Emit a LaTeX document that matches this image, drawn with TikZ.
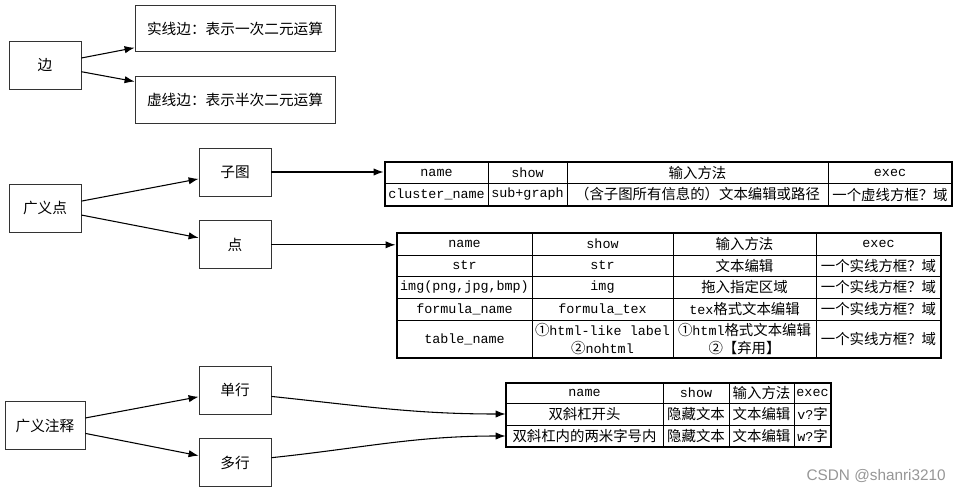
\documentclass[tikz,border=0pt]{standalone}
\usepackage{fontspec}
\setmainfont{Noto Sans CJK SC}
\setmonofont[Scale=0.93]{Liberation Mono}
\newfontfamily\wmfont{Liberation Sans}
\usetikzlibrary{fit,positioning,arrows.meta}
\definecolor{mygray}{RGB}{150,150,150}
% table cell from corner (x1,y1) to corner (x2,y2), in pixels
\newcommand{\tcell}[6]{\node[cell, minimum width={(#4-#2)*0.75pt}, minimum height={(#5-#3)*0.75pt}] (#1) at ({(#2+#4)/2},{(#3+#5)/2}) {#6};}

\begin{document}
\begin{tikzpicture}[x=0.75pt,y=-0.75pt,node distance=18pt and 10mm,inner sep=0pt]
\tikzstyle{main}=[rectangle, minimum width=54pt, minimum height=36pt, draw=black!80, semithick, font=\fontsize{11}{13}\selectfont]
\tikzstyle{note}=[main, minimum width=150pt, minimum height=35pt]
\tikzstyle{cell}=[rectangle, draw=black, line width=0.6pt, align=center, font=\fontsize{10.8}{13}\selectfont]
\tikzstyle{tab}=[rectangle, draw=black, line width=1.6pt]
\tikzstyle{connect}=[-{Latex[length=7.5pt,width=5.5pt]}, line width=0.8pt]
\useasboundingbox[fill=white] (0,0) rectangle (960,492);
% left column
\node[main] (bian) at (45,65) {边};
\node[main] (dian) at (45,208) {广义点};
\node[main, minimum width=60pt] (zhushi) at (45,425.5) {广义注释};
% middle column
\node[note] (shixian) at (235,28.5) {实线边：表示一次二元运算};
\node[note] (xuxian) [below=of shixian] {虚线边：表示半次二元运算};
\node[main] (zitu) at (235,172) {子图};
\node[main] (pt) [below=of zitu] {点};
\node[main] (danhang) at (235,390) {单行};
\node[main] (duohang) [below=of danhang] {多行};
% table of zitu
\tcell{z-1-1}{385}{162}{488}{183}{\texttt{name}}
\tcell{z-1-2}{488}{162}{567}{183}{\texttt{show}}
\tcell{z-1-3}{567}{162}{828}{183}{输入方法}
\tcell{z-1-4}{828}{162}{952}{183}{\texttt{exec}}
\tcell{z-2-1}{385}{183}{488}{206}{\texttt{cluster\_name}}
\tcell{z-2-2}{488}{183}{567}{206}{\texttt{sub+graph}}
\tcell{z-2-3}{567}{183}{828}{206}{（含子图所有信息的）文本编辑或路径}
\tcell{z-2-4}{828}{183}{952}{206}{一个虚线方框？域}
\node[tab, fit=(z-1-1)(z-2-4)] (tab1) {};
% table of pt
\tcell{d-1-1}{397}{233}{532}{255}{\texttt{name}}
\tcell{d-1-2}{532}{233}{673}{255}{\texttt{show}}
\tcell{d-1-3}{673}{233}{816}{255}{输入方法}
\tcell{d-1-4}{816}{233}{941}{255}{\texttt{exec}}
\tcell{d-2-1}{397}{255}{532}{276}{\texttt{str}}
\tcell{d-2-2}{532}{255}{673}{276}{\texttt{str}}
\tcell{d-2-3}{673}{255}{816}{276}{文本编辑}
\tcell{d-2-4}{816}{255}{941}{276}{一个实线方框？域}
\tcell{d-3-1}{397}{276}{532}{298}{\texttt{img(png,jpg,bmp)}}
\tcell{d-3-2}{532}{276}{673}{298}{\texttt{img}}
\tcell{d-3-3}{673}{276}{816}{298}{拖入指定区域}
\tcell{d-3-4}{816}{276}{941}{298}{一个实线方框？域}
\tcell{d-4-1}{397}{298}{532}{320}{\texttt{formula\_name}}
\tcell{d-4-2}{532}{298}{673}{320}{\texttt{formula\_tex}}
\tcell{d-4-3}{673}{298}{816}{320}{\texttt{tex}格式文本编辑}
\tcell{d-4-4}{816}{298}{941}{320}{一个实线方框？域}
\tcell{d-5-1}{397}{320}{532}{358}{\texttt{table\_name}}
\tcell{d-5-2}{532}{320}{673}{358}{①\texttt{html-like label}\\②\texttt{nohtml}}
\tcell{d-5-3}{673}{320}{816}{358}{①\texttt{html}格式文本编辑\\②【弃用】}
\tcell{d-5-4}{816}{320}{941}{358}{一个实线方框？域}
\node[tab, fit=(d-1-1)(d-5-4)] (tab2) {};
% table of zhushi
\tcell{n-1-1}{506}{383}{663}{403}{\texttt{name}}
\tcell{n-1-2}{663}{383}{729}{403}{\texttt{show}}
\tcell{n-1-3}{729}{383}{794}{403}{输入方法}
\tcell{n-1-4}{794}{383}{831}{403}{\texttt{exec}}
\tcell{n-2-1}{506}{403}{663}{425}{双斜杠开头}
\tcell{n-2-2}{663}{403}{729}{425}{隐藏文本}
\tcell{n-2-3}{729}{403}{794}{425}{文本编辑}
\tcell{n-2-4}{794}{403}{831}{425}{\texttt{v?}字}
\tcell{n-3-1}{506}{425}{663}{447}{双斜杠内的两米字号内}
\tcell{n-3-2}{663}{425}{729}{447}{隐藏文本}
\tcell{n-3-3}{729}{425}{794}{447}{文本编辑}
\tcell{n-3-4}{794}{425}{831}{447}{\texttt{w?}字}
\node[tab, fit=(n-1-1)(n-3-4)] (tab3) {};
% watermark
\node[font=\wmfont\fontsize{11.5}{13}\selectfont, text=mygray, anchor=east] (mark) at (946,476) {CSDN @shanri3210};
% connectors
\path (bian) edge[connect] (shixian) edge[connect] (xuxian);
\path (dian) edge[connect] (zitu) edge[connect] (pt);
\path (zhushi) edge[connect] (danhang) edge[connect] (duohang);
\draw[connect] (zitu) -- (zitu -| tab1.west);
\draw[connect] (pt) -- (pt -| tab2.west);
\draw[connect] (danhang.350) to[out=-6,in=180] (n-2-1.west);
\draw[connect] (duohang.8) to[out=6,in=180] (n-3-1.west);
\end{tikzpicture}
\end{document}
